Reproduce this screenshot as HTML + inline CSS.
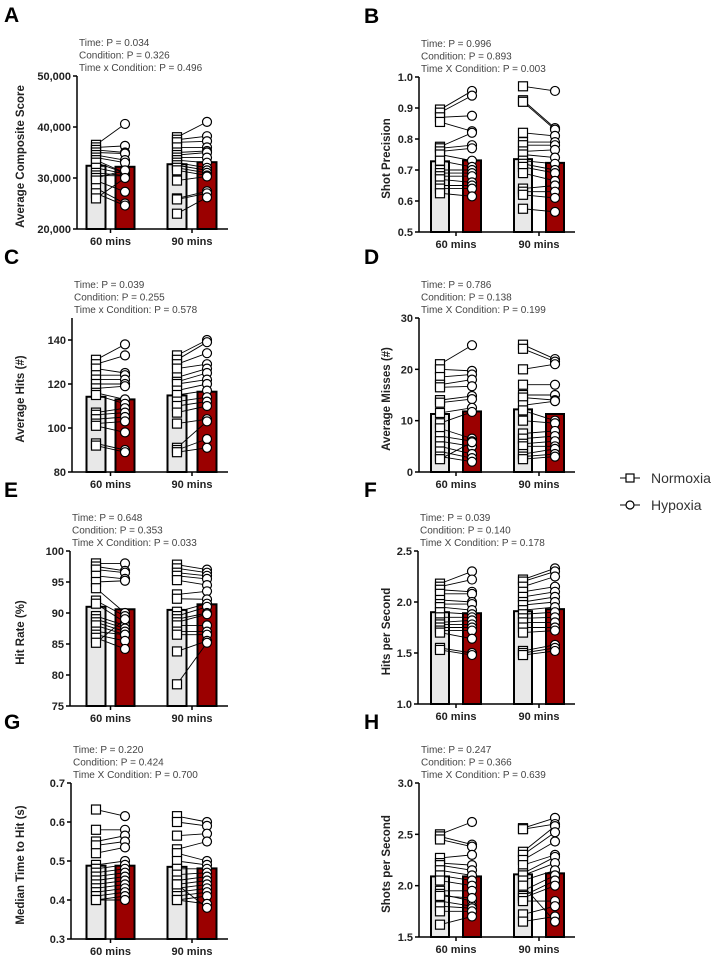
<!DOCTYPE html>
<html><head><meta charset="utf-8">
<style>
html,body{margin:0;padding:0;background:#fff;}
svg{display:block;font-family:"Liberation Sans",Arial,sans-serif;}
</style></head>
<body>
<svg id="fig" width="718" height="960" viewBox="0 0 718 960"></svg>
<script>
// ---- Data (estimated from the figure) ----
const timeCategories = ["60 mins", "90 mins"];

const aN60 = [36500,36000,35500,35000,34500,34000,33500,33000,32000,31000,30500,30000,29500,28000,27000,26000];
const aH60 = [40600,36300,35000,34800,33500,33000,31000,31000,30800,30500,30400,31500,27300,25000,24600,30000];
const aN90 = [38000,37500,37000,36000,35000,34500,34000,33500,33000,32500,32000,31500,29500,26000,25800,23000];
const aH90 = [41000,38200,37200,36000,35300,35000,34000,33000,32000,31500,31000,30500,30300,27400,27000,26200];
const aBars = [32400,32200,32700,33100];
const aTicks = ["20,000","30,000","40,000","50,000"];

const bN60 = [.895,.885,.87,.855,.775,.77,.76,.75,.73,.70,.69,.68,.67,.65,.64,.625];
const bH60 = [.955,.94,.875,.825,.82,.78,.77,.73,.71,.70,.69,.68,.66,.65,.64,.615];
const bN90 = [.97,.925,.92,.82,.79,.78,.76,.75,.73,.72,.71,.69,.64,.63,.62,.575];
const bH90 = [.955,.835,.83,.81,.79,.78,.765,.74,.72,.70,.69,.665,.65,.63,.61,.565];
const bBars = [.728,.731,.735,.723];
const bTicks = ["0.5","0.6","0.7","0.8","0.9","1.0"];

const cN60 = [131,129,127,124,122,120,118,116,115,107,106,104,102,101,93,92];
const cH60 = [138,133,125,124,122,120,119,113,111,109,107,105,103,98,90,89];
const cN90 = [133,131,129,127,123,121,120,117,115,112,110,107,102,91,90,89];
const cH90 = [140,139,134,129,127,125,122,120,117,114,112,110,104,103,95,91];
const cBars = [114.2,113,114.8,116.5];
const cTicks = ["80","100","120","140"];

const dN60 = [21,20,18.5,17,16.5,14,13.5,11.5,9.5,8.5,7,6,5,4,3,2.5];
const dH60 = [24.7,19.7,19,18,16.7,14.8,14.2,12.5,11.7,6.5,6,5,3.5,2.7,2,5.8];
const dN90 = [24.8,24,20,17,15,14.5,13,12,10,7.5,6.5,5.5,5,3.5,3,2.5];
const dH90 = [22,21.5,21,17,15,14,13.8,10,9.5,8,7,6,5,4.5,3.5,3];
const dBars = [11.3,11.8,12.2,11.3];
const dTicks = ["0","10","20","30"];

const eN60 = [98,97.5,97,96,95,94,92,91.5,89.5,89,88.5,88,87,86.5,86,85.2];
const eH60 = [98,96.8,96.5,95.5,95.2,90,89.5,88.5,88,87.5,87,86.5,86.5,85.5,84.2,89];
const eN90 = [97.8,97.2,96.5,96,95.3,93,92.3,90.2,89.5,89,88.5,88,87,86.5,83.8,78.5];
const eH90 = [97,96.5,96,95.5,94.5,93.5,92.2,91.5,91,90,89.8,88,87,86.5,85.5,85.2];
const eBars = [91,90.6,90.5,91.4];
const eTicks = ["75","80","85","90","95","100"];

const fN60 = [2.18,2.15,2.12,2.08,2.02,1.98,1.95,1.9,1.85,1.8,1.78,1.75,1.72,1.7,1.55,1.53];
const fH60 = [2.3,2.22,2.1,2.08,2.0,1.98,1.92,1.88,1.85,1.82,1.78,1.75,1.72,1.64,1.5,1.48];
const fN90 = [2.22,2.2,2.15,2.1,2.05,2.0,1.97,1.92,1.88,1.84,1.8,1.75,1.7,1.52,1.5,1.48];
const fH90 = [2.33,2.3,2.25,2.15,2.1,2.05,2.0,1.95,1.9,1.85,1.8,1.75,1.72,1.58,1.55,1.52];
const fBars = [1.90,1.89,1.91,1.93];
const fTicks = ["1.0","1.5","2.0","2.5"];

const gN60 = [.632,.58,.55,.54,.52,.49,.48,.47,.46,.45,.44,.43,.42,.41,.40,.40];
const gH60 = [.615,.58,.565,.55,.535,.50,.49,.48,.47,.46,.45,.44,.43,.42,.41,.40];
const gN90 = [.615,.60,.565,.53,.52,.50,.48,.465,.45,.44,.43,.42,.41,.40,.40,.44];
const gH90 = [.60,.59,.57,.55,.50,.49,.48,.47,.46,.45,.44,.43,.42,.41,.39,.38];
const gBars = [.488,.488,.485,.481];
const gTicks = ["0.3","0.4","0.5","0.6","0.7"];

const hN60 = [2.5,2.48,2.45,2.27,2.22,2.2,2.15,2.1,2.05,1.95,1.92,1.85,1.8,1.75,1.62,1.9];
const hH60 = [2.62,2.4,2.38,2.3,2.2,2.15,2.1,2.05,2.0,1.95,1.85,1.8,1.78,1.75,1.7,1.88];
const hN90 = [2.56,2.55,2.33,2.3,2.25,2.2,2.12,2.1,2.05,1.95,1.9,1.88,1.85,1.72,1.65,2.0];
const hH90 = [2.66,2.6,2.58,2.52,2.43,2.3,2.28,2.22,2.15,2.1,2.05,2.0,1.85,1.8,1.7,1.65];
const hBars = [2.09,2.09,2.11,2.12];
const hTicks = ["1.5","2.0","2.5","3.0"];

// ---- Layout ----
const NS = "http://www.w3.org/2000/svg";
const svg = document.getElementById("fig");
function mk(tag, attrs, parent) {
  const e = document.createElementNS(NS, tag);
  for (const k in attrs) e.setAttribute(k, attrs[k]);
  (parent || svg).appendChild(e);
  return e;
}

const panels = [
  {L:"A", col:0, top:76, bot:229, ax:77, min:20000, max:50000, ttl:"Average Composite Score",
   p:["Time: P = 0.034","Condition: P = 0.326","Time x Condition: P = 0.496"], N60:aN60,H60:aH60,N90:aN90,H90:aH90,bars:aBars,ticks:aTicks},
  {L:"B", col:1, top:77, bot:232, ax:419, min:0.5, max:1.0, ttl:"Shot Precision",
   p:["Time: P = 0.996","Condition: P = 0.893","Time X Condition: P = 0.003"], N60:bN60,H60:bH60,N90:bN90,H90:bH90,bars:bBars,ticks:bTicks},
  {L:"C", col:0, top:318, bot:472, ax:72, min:80, max:150, ttl:"Average Hits (#)",
   p:["Time: P = 0.039","Condition: P = 0.255","Time x Condition: P = 0.578"], N60:cN60,H60:cH60,N90:cN90,H90:cH90,bars:cBars,ticks:cTicks},
  {L:"D", col:1, top:318, bot:472, ax:419, min:0, max:30, ttl:"Average Misses (#)",
   p:["Time: P = 0.786","Condition: P = 0.138","Time X Condition: P = 0.199"], N60:dN60,H60:dH60,N90:dN90,H90:dH90,bars:dBars,ticks:dTicks},
  {L:"E", col:0, top:551, bot:706, ax:70, min:75, max:100, ttl:"Hit Rate (%)",
   p:["Time: P = 0.648","Condition: P = 0.353","Time X Condition: P = 0.033"], N60:eN60,H60:eH60,N90:eN90,H90:eH90,bars:eBars,ticks:eTicks},
  {L:"F", col:1, top:551, bot:704, ax:418, min:1.0, max:2.5, ttl:"Hits per Second",
   p:["Time: P = 0.039","Condition: P = 0.140","Time X Condition: P = 0.178"], N60:fN60,H60:fH60,N90:fN90,H90:fH90,bars:fBars,ticks:fTicks},
  {L:"G", col:0, top:783, bot:939, ax:71, min:0.3, max:0.7, ttl:"Median Time to Hit (s)",
   p:["Time: P = 0.220","Condition: P = 0.424","Time X Condition: P = 0.700"], N60:gN60,H60:gH60,N90:gN90,H90:gH90,bars:gBars,ticks:gTicks},
  {L:"H", col:1, top:783, bot:937, ax:419, min:1.5, max:3.0, ttl:"Shots per Second",
   p:["Time: P = 0.247","Condition: P = 0.366","Time X Condition: P = 0.639"], N60:hN60,H60:hH60,N90:hN90,H90:hH90,bars:hBars,ticks:hTicks}
];

panels.forEach(pn => {
  const g = mk("g", {});
  
  
  const left = pn.col === 0;
  const xEnd = left ? 228 : 575;
  const centers = left ? [96,125,177,207] : [440,472,523,555];
  const bw = left ? 19 : 18;
  const y = v => pn.bot - (v - pn.min) / (pn.max - pn.min) * (pn.bot - pn.top);

  const lt = mk("text", {x: left ? 4 : 364, y: pn.top - 54, "font-size": 21, "font-weight": "bold", fill: "#000"}, g);
  lt.textContent = pn.L;
  
  

  pn.p.forEach((s, i) => {
    const t = mk("text", {x: pn.ax + 2, y: pn.top - 30 + i * 12.5, "font-size": 10, fill: "#444"}, g);
    t.textContent = s;
    
    
  });

  pn.bars.forEach((v, i) => {
    const hyp = i % 2 === 1;
    const r = mk("rect", {x: centers[i] - bw/2, y: y(v), width: bw, height: pn.bot - y(v),
      fill: hyp ? "#9b0000" : "#e8e8e8", stroke: "#000", "stroke-width": 2}, g);
    
    
  });

  const sets = [[pn.N60, pn.H60, 0], [pn.N90, pn.H90, 2]];
  sets.forEach(([N, H, ci]) => {
    N.forEach((v, i) => {
      const l = mk("line", {x1: centers[ci], y1: y(v), x2: centers[ci+1], y2: y(H[i]), stroke: "#000", "stroke-width": 0.9}, g);
      
      
    });
    N.forEach(v => {
      const s = mk("rect", {x: centers[ci] - 4.5, y: y(v) - 4.5, width: 9, height: 9, fill: "#fff", stroke: "#000", "stroke-width": 1.2}, g);
      
      
    });
    H.forEach(v => {
      const c = mk("circle", {cx: centers[ci+1], cy: y(v), r: 4.5, fill: "#fff", stroke: "#000", "stroke-width": 1.2}, g);
      
      
    });
  });

  const ya = mk("line", {x1: pn.ax, y1: pn.top, x2: pn.ax, y2: pn.bot, stroke: "#000", "stroke-width": 1.5}, g);
  
  
  const xa = mk("line", {x1: pn.ax, y1: pn.bot, x2: xEnd, y2: pn.bot, stroke: "#000", "stroke-width": 1.5}, g);
  
  

  pn.ticks.forEach(tl => {
    const v = parseFloat(tl.replace(/,/g, ""));
    const ty = y(v);
    mk("line", {x1: pn.ax - 4, y1: ty, x2: pn.ax, y2: ty, stroke: "#000", "stroke-width": 1.5}, g);
    const t = mk("text", {x: pn.ax - 6, y: ty + 4, "font-size": 11, "font-weight": "bold", "text-anchor": "end", fill: "#222"}, g);
    t.textContent = tl;
    
    
  });

  timeCategories.forEach((c, k) => {
    const cx = (centers[2*k] + centers[2*k+1]) / 2;
    mk("line", {x1: cx, y1: pn.bot, x2: cx, y2: pn.bot + 4, stroke: "#000", "stroke-width": 1.5}, g);
    const t = mk("text", {x: cx, y: pn.bot + 16, "font-size": 11, "font-weight": "bold", "text-anchor": "middle", fill: "#222"}, g);
    t.textContent = c;
    
    
  });

  const tx = left ? 24 : 390, ty = (pn.top + pn.bot) / 2 + 4;
  const at = mk("text", {x: tx, y: ty, "font-size": 11.5, "font-weight": "bold", "text-anchor": "middle", fill: "#222",
    transform: `rotate(-90 ${tx} ${ty})`}, g);
  at.textContent = pn.ttl;
  
  
});

const lg = mk("g", {});


[["Normoxia", 478, "sq"], ["Hypoxia", 505, "ci"]].forEach(([name, ly, m]) => {
  const eg = mk("g", {}, lg);
  
  
  mk("line", {x1: 620, y1: ly, x2: 640, y2: ly, stroke: "#000", "stroke-width": 1}, eg);
  if (m === "sq") mk("rect", {x: 626, y: ly - 4, width: 8, height: 8, fill: "#fff", stroke: "#000", "stroke-width": 1.2}, eg);
  else mk("circle", {cx: 630, cy: ly, r: 4, fill: "#fff", stroke: "#000", "stroke-width": 1.2}, eg);
  const t = mk("text", {x: 651, y: ly + 5, "font-size": 14, fill: "#333"}, eg);
  t.textContent = name;
});
</script>
</body></html>
